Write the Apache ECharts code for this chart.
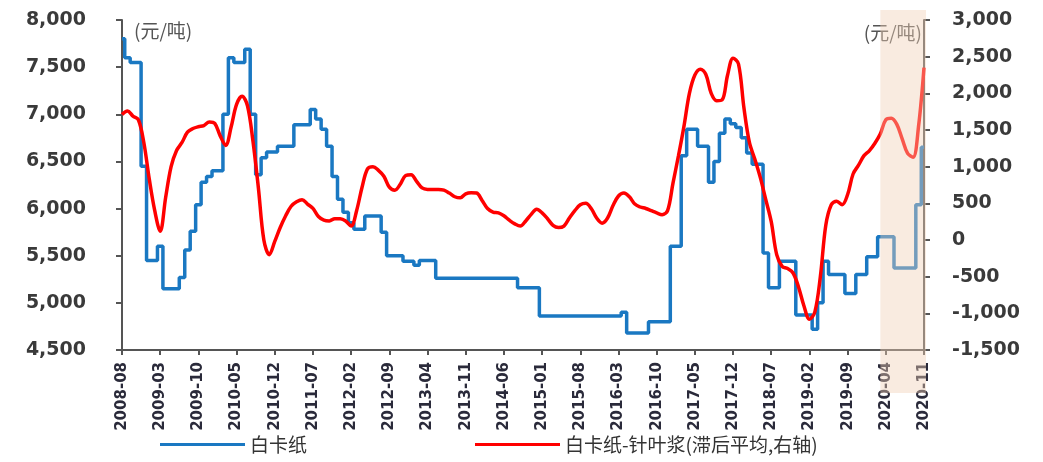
<!DOCTYPE html>
<html>
<head>
<meta charset="utf-8">
<script src="https://cdn.jsdelivr.net/npm/echarts@6/dist/echarts.min.js"></script>
<style>
	html, body { margin: 0; padding: 0; background: #fff; }
	#main { width: 1043px; height: 462px; }
</style>
</head>
<body>
<div id="main"></div>
<script>
// 月份 2008-08 ~ 2020-11
var months = [];
for (var y = 2008; y <= 2020; y++) {
	for (var m = 1; m <= 12; m++) {
		if (y == 2008 && m < 8) continue;
		if (y == 2020 && m > 11) continue;
		months.push(y + '-' + (m < 10 ? '0' + m : m));
	}
}

// 白卡纸 (元/吨, 左轴)
var baika = [
	7800,7600,7550,7550,6450,5450,5450,5600,5150,5150,5150,5270,
	5560,5760,6040,6280,6340,6400,6400,7000,7600,7550,7550,7690,
	7000,6360,6540,6600,6600,6660,6660,6660,6890,6890,6890,7050,
	6950,6840,6660,6340,6100,5960,5850,5780,5780,5920,5920,5920,
	5750,5500,5500,5500,5440,5440,5400,5450,5450,5450,5260,5260,
	5260,5260,5260,5260,5260,5260,5260,5260,5260,5260,5260,5260,
	5260,5160,5160,5160,5160,4860,4860,4860,4860,4860,4860,4860,
	4860,4860,4860,4860,4860,4860,4860,4860,4900,4680,4680,4680,
	4680,4800,4800,4800,4800,5600,5600,6560,6840,6840,6660,6660,
	6280,6500,6800,6950,6900,6860,6750,6590,6470,6470,5530,5160,
	5160,5440,5440,5440,4870,4870,4870,4720,5000,5440,5300,5300,
	5300,5100,5100,5300,5300,5490,5490,5700,5700,5700,5370,5370,
	5370,5370,6040,6650
];

// 白卡纸-针叶浆 价差 (滞后平均, 右轴)
var spread = [
	1710,1760,1690,1640,1330,830,400,120,580,1000,1220,1330,
	1470,1520,1545,1560,1610,1590,1420,1290,1540,1850,1960,1830,
	1350,710,0,-200,-20,170,330,460,520,550,490,430,
	320,270,260,290,290,260,190,400,720,970,1000,950,
	870,720,680,760,880,890,800,710,690,690,690,680,
	640,590,575,630,645,640,540,430,380,370,330,270,
	220,190,260,350,420,370,290,200,170,190,300,400,
	480,500,430,300,230,300,470,600,640,590,490,450,
	430,400,370,346,400,780,1150,1550,2000,2250,2330,2260,
	2000,1900,1910,2250,2480,2400,1800,1330,1100,850,550,250,
	-200,-360,-390,-450,-640,-900,-1080,-980,-500,200,480,530,
	480,620,900,1020,1150,1220,1320,1450,1640,1660,1580,1380,
	1180,1130,1550,2350
];

// 阴影区间
var shadeFrom = '2020-03', shadeTo = '2020-11';

var axisColor = '#555';
var labelFont = { color: '#3a3a3a', fontSize: 19, fontWeight: 'bold', fontFamily: 'DejaVu Sans' };

var myChart = echarts.init(document.getElementById('main'));
myChart.setOption({
	animation: false,
	backgroundColor: '#fff',
	grid: { left: 122, right: 119, top: 20, bottom: 112 },
	legend: {
		bottom: 3,
		left: 155,
		itemWidth: 85,
		itemHeight: 3,
		itemGap: 168,
		icon: 'rect',
		textStyle: { color: '#333', fontSize: 19, fontFamily: 'Noto Sans CJK SC' },
		data: ['白卡纸', '白卡纸-针叶浆(滞后平均,右轴)']
	},
	xAxis: {
		type: 'category',
		boundaryGap: false,
		data: months,
		axisLine: { onZero: false, lineStyle: { color: axisColor, width: 2 } },
		axisTick: { interval: 6, length: 5, lineStyle: { color: axisColor, width: 2 } },
		axisLabel: {
			interval: 6, rotate: 90, margin: 12,
			color: '#2a2a3a', fontSize: 15, fontWeight: 'bold', fontFamily: 'DejaVu Sans'
		}
	},
	yAxis: [{
		type: 'value',
		min: 4500, max: 8000, interval: 500,
		name: '(元/吨)',
		nameLocation: 'end',
		nameGap: -20,
		nameTextStyle: { align: 'left', padding: [0, 0, 0, 12], color: '#555', fontSize: 19, fontFamily: 'Noto Sans CJK SC' },
		splitLine: { show: false },
		axisLine: { show: true, lineStyle: { color: axisColor, width: 2 } },
		axisTick: { show: true, length: 6, lineStyle: { color: axisColor, width: 2 } },
		axisLabel: Object.assign({ margin: 36 }, labelFont)
	}, {
		type: 'value',
		min: -1500, max: 3000, interval: 500,
		name: '(元/吨)',
		nameLocation: 'end',
		nameGap: -22,
		nameTextStyle: { align: 'right', padding: [0, 2, 0, 0], color: '#555', fontSize: 19, fontFamily: 'Noto Sans CJK SC' },
		splitLine: { show: false },
		axisLine: { show: true, lineStyle: { color: axisColor, width: 2 } },
		axisTick: { show: true, length: 6, lineStyle: { color: axisColor, width: 2 } },
		axisLabel: Object.assign({ margin: 28 }, labelFont)
	}],
	series: [{
		name: '白卡纸',
		type: 'line',
		step: 'middle',
		data: baika,
		showSymbol: false,
		color: '#1a78c2',
		lineStyle: { width: 3.5 },
		z: 2
	}, {
		name: '白卡纸-针叶浆(滞后平均,右轴)',
		type: 'line',
		yAxisIndex: 1,
		smooth: 0.35,
		data: spread,
		showSymbol: false,
		color: '#ff0000',
		lineStyle: { width: 3.5 },
		z: 3
	}]
});

// 阴影: 位置取自x轴
var x0 = myChart.convertToPixel({ xAxisIndex: 0 }, shadeFrom);
var x1 = myChart.convertToPixel({ xAxisIndex: 0 }, shadeTo);
myChart.setOption({
	graphic: [{
		type: 'rect',
		silent: true,
		z: 100,
		shape: { x: x0, y: 10, width: x1 - x0 + 2, height: 383 },
		style: { fill: 'rgba(240,208,182,0.42)' }
	}]
});
</script>
</body>
</html>
